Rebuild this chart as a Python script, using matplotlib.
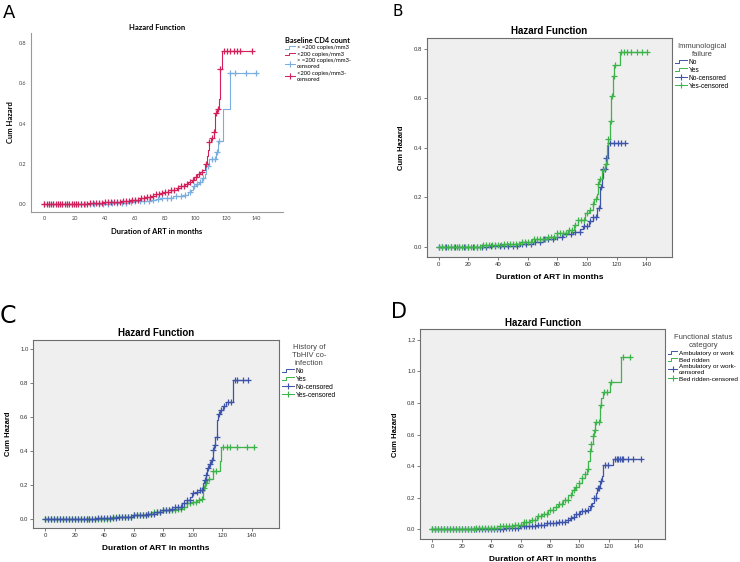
import numpy as np
import matplotlib
matplotlib.use("Agg")
import matplotlib.pyplot as plt
from matplotlib.lines import Line2D
from matplotlib.legend_handler import HandlerBase

# ---------------- data ----------------
# A: Baseline CD4 count
A_hi_t = [0, 45, 50, 55, 60, 65, 70, 74, 78, 85, 92, 95, 97, 98, 100, 102, 104, 106, 107, 109, 113.5, 114.6, 118, 122.4]
A_hi_h = [0, 0.003, 0.006, 0.01, 0.013, 0.016, 0.02, 0.025, 0.03, 0.04, 0.045, 0.06, 0.07, 0.09, 0.10, 0.11, 0.13, 0.15, 0.19, 0.225, 0.26, 0.315, 0.47, 0.65]
A_hi_cens = [0, 3, 6, 9, 12, 15, 18, 21, 24, 27, 30, 33, 36, 39, 42, 45, 48, 51, 54, 57, 60, 63, 66, 69, 72, 75, 78, 81, 84, 87, 90, 93, 96, 99, 101, 103, 105, 108, 111, 113, 114, 115.5, 122.8, 125.7, 133.4, 140]
A_lo_t = [0, 20, 30, 40, 45.6, 52, 57, 63, 67, 71, 74, 77, 80, 84, 87.5, 90, 93, 95, 97.4, 99, 100.7, 103, 104.5, 106, 107.4, 108, 108.5, 110, 111.8, 113, 114, 115.3, 116, 117.3]
A_lo_h = [0, 0.002, 0.005, 0.008, 0.01, 0.015, 0.02, 0.03, 0.035, 0.04, 0.05, 0.055, 0.06, 0.07, 0.08, 0.09, 0.10, 0.11, 0.12, 0.135, 0.15, 0.16, 0.17, 0.20, 0.24, 0.27, 0.31, 0.33, 0.36, 0.45, 0.47, 0.52, 0.67, 0.76]
A_lo_cens = [0, 1.5, 3, 4.5, 6, 7.5, 9, 10.5, 12, 13.5, 15, 16.5, 18, 19.5, 21, 22.5, 24, 26, 28, 30, 32, 34, 36, 38, 40, 42, 44, 46, 48, 50, 52, 54, 56, 58, 60, 62, 64, 66, 68, 70, 72, 74, 76, 78, 80, 82, 84, 86, 88, 90, 92, 94, 96, 98, 100, 102, 104, 107, 108.5, 110.5, 112, 113.5, 114.5, 116, 119, 121, 123, 125, 127, 129, 137]
A_labels = ["> =200 copies/mm3", "<200 copies/mm3", "> =200 copies/mm3-\ncensored", "<200 copies/mm3-\ncensored"]

# B: Immunological failure
B_no_t = [0, 35, 55, 63.8, 70.6, 78.4, 84, 90.8, 95.3, 97.5, 101, 103.8, 106.5, 108.8, 110.3, 111, 112.8, 114.4]
B_no_h = [0, 0.003, 0.01, 0.02, 0.03, 0.04, 0.05, 0.06, 0.07, 0.084, 0.105, 0.119, 0.155, 0.243, 0.277, 0.313, 0.36, 0.42]
B_no_cens = [0, 2, 5, 8, 11, 14, 17, 20, 23, 26, 29, 32, 35, 38, 41, 44, 47, 50, 53, 56, 59, 62, 65, 68, 71, 74, 77, 80, 83, 86, 89, 92, 95, 98, 100, 102, 104, 106, 108, 109.5, 111, 112, 113, 115.5, 118.4, 120.7, 122.7, 125.6]
B_yes_t = [0, 30, 43.6, 54.8, 62.7, 72.8, 79.5, 87.4, 91.5, 94, 98.7, 101, 103.8, 105, 106.5, 107.2, 108.3, 110.3, 112, 113.8, 114.3, 115.8, 116.3, 117.2, 118.4, 122.2]
B_yes_h = [0, 0.005, 0.011, 0.02, 0.03, 0.04, 0.054, 0.068, 0.088, 0.108, 0.135, 0.149, 0.173, 0.192, 0.215, 0.253, 0.274, 0.311, 0.334, 0.41, 0.435, 0.51, 0.61, 0.69, 0.735, 0.79]
B_yes_cens = [0, 2, 4, 6, 8, 10, 12, 14, 16, 18, 20, 22, 24, 26, 28, 30, 32, 34, 36, 38, 40, 42, 44, 46, 48, 50, 52, 54, 56, 58, 60, 62, 64, 66, 68, 70, 72, 74, 76, 78, 80, 82, 84, 86, 88, 90, 92, 94, 96, 98, 100, 102, 104, 106, 107.5, 109, 110.5, 113, 114.4, 116, 117, 118, 119, 122.7, 125, 127.2, 129.4, 133.5, 136.9, 140.5]
B_labels = ["No", "Yes", "No-censored", "Yes-censored"]

# C: History of TbHIV co-infection
C_no_t = [0, 35, 48.4, 59.7, 70, 75.6, 80, 84.6, 88, 92.5, 96, 98.2, 99.8, 102.7, 105, 107, 107.9, 108.8, 110, 111.3, 112.4, 113.6, 114.5, 115.4, 116.7, 117.4, 118.5, 120.8, 122.6, 127.6]
C_no_h = [0, 0.005, 0.01, 0.02, 0.03, 0.04, 0.05, 0.06, 0.071, 0.09, 0.11, 0.13, 0.15, 0.159, 0.169, 0.21, 0.228, 0.256, 0.297, 0.325, 0.346, 0.405, 0.433, 0.484, 0.583, 0.62, 0.64, 0.665, 0.691, 0.821]
C_no_cens = [0, 2, 4, 6, 8, 10, 12, 14, 16, 18, 20, 22, 24, 26, 28, 30, 32, 34, 36, 38, 40, 42, 44, 46, 48, 50, 52, 54, 56, 58, 60, 62, 64, 66, 68, 70, 72, 74, 76, 78, 80, 82, 84, 86, 88, 90, 92, 94, 96, 98, 100, 103, 105, 106, 108, 109, 110.5, 112, 113, 114, 115, 116.5, 117.5, 119, 121, 124, 126, 128.7, 130.3, 134.4, 137.8]
C_yes_t = [0, 46, 59.7, 68.8, 73, 80, 89, 92.5, 96, 99.3, 102.7, 105, 106.8, 108, 110, 113.6, 118.3, 119]
C_yes_h = [0, 0.01, 0.02, 0.03, 0.04, 0.05, 0.06, 0.07, 0.09, 0.10, 0.11, 0.118, 0.183, 0.21, 0.232, 0.28, 0.343, 0.421]
C_yes_cens = [0, 2, 4, 6, 8, 10, 12, 14, 16, 18, 20, 22, 24, 26, 28, 30, 32, 34, 36, 38, 40, 42, 44, 46, 48, 50, 52, 54, 56, 58, 60, 62, 64, 66, 68, 70, 72, 74, 76, 78, 80, 82, 84, 86, 88, 90, 92, 94, 96, 98, 100, 102, 104, 106, 107.5, 109, 111, 114, 115.8, 120.4, 123.1, 125.3, 130.3, 136.7, 141.6]
C_labels = ["No", "Yes", "No-censored", "Yes-censored"]

# D: Functional status category
D_amb_t = [0, 38, 48.3, 59.6, 70.9, 77.7, 84.5, 90.2, 93.6, 95.8, 98, 100.4, 104.9, 107.2, 108.3, 109.9, 111.2, 112.1, 114, 115.5, 116.2, 123]
D_amb_h = [0, 0.005, 0.01, 0.02, 0.03, 0.04, 0.048, 0.06, 0.07, 0.08, 0.10, 0.116, 0.125, 0.148, 0.169, 0.2, 0.232, 0.264, 0.306, 0.337, 0.407, 0.445]
D_amb_cens = [0, 2, 4, 6, 8, 10, 12, 14, 16, 18, 20, 22, 24, 26, 28, 30, 32, 34, 36, 38, 40, 42, 44, 46, 48, 50, 52, 54, 56, 58, 60, 62, 64, 66, 68, 70, 72, 74, 76, 78, 80, 82, 84, 86, 88, 90, 92, 94, 96, 98, 100, 102, 104, 106, 108, 110, 111, 112.5, 113.5, 114.5, 117.4, 119.6, 124.2, 125.3, 126.4, 127.5, 128.7, 129.8, 133.2, 136.6, 141.6]
D_bed_t = [0, 30, 46, 55, 61.8, 66.4, 70.9, 74.3, 78.8, 82.2, 85.6, 89, 92.4, 94.7, 97, 99.9, 102, 103.8, 104.9, 106, 107, 107.6, 109, 109.9, 110.6, 114, 115, 116.2, 120.8, 128]
D_bed_h = [0, 0.01, 0.02, 0.03, 0.048, 0.061, 0.084, 0.10, 0.122, 0.143, 0.162, 0.186, 0.215, 0.247, 0.268, 0.295, 0.327, 0.352, 0.38, 0.432, 0.495, 0.54, 0.59, 0.63, 0.68, 0.79, 0.833, 0.87, 0.935, 1.09]
D_bed_cens = [0, 2, 4, 6, 8, 10, 12, 14, 16, 18, 20, 22, 24, 26, 28, 30, 32, 34, 36, 38, 40, 42, 44, 46, 48, 50, 52, 54, 56, 58, 60, 62, 64, 66, 68, 70, 72, 74, 76, 78, 80, 82, 84, 86, 88, 90, 92, 94, 96, 98, 100, 102, 104, 105.5, 107, 108, 109.5, 110.3, 111.5, 113, 114.5, 116.9, 118.9, 121.4, 129.8, 134.3]
D_labels = ["Ambulatory or work", "Bed ridden", "Ambulatory or work-\ncensored", "Bed ridden-censored"]

X_TICKS = [0, 20, 40, 60, 80, 100, 120, 140]

# ---------------- style ----------------
SPSS_BLUE = "#3e54aa"
SPSS_GREEN = "#3cb44a"
A_BLUE = "#7aaee0"
A_RED = "#d2205a"
PANEL_BG = "#efefef"


class StepHandler(HandlerBase):
    """Little '_|-' glyph that SPSS uses for the step lines in the legend."""
    def create_artists(self, legend, orig_handle, xdescent, ydescent,
                       width, height, fontsize, trans):
        x0, y0 = -xdescent, -ydescent
        xs = [x0, x0 + 0.35 * width, x0 + 0.35 * width, x0 + width]
        ys = [y0 + 0.15 * height, y0 + 0.15 * height, y0 + 0.85 * height, y0 + 0.85 * height]
        ln = Line2D(xs, ys, color=orig_handle.get_color(), lw=0.7, transform=trans)
        return [ln]


def step_at(t, h, q):
    idx = np.searchsorted(np.asarray(t), np.asarray(q), side="right") - 1
    return np.asarray(h)[idx]


def draw_curve(ax, t, h, cens, color, lw=0.9, ms=4.5):
    t_end = max(max(cens), t[-1])
    ax.step(list(t) + [t_end], list(h) + [h[-1]], where="post", color=color, lw=lw)
    ax.plot(cens, step_at(t, h, cens), ls="none", marker="+", color=color, ms=ms, mew=0.9)


def legend_handles(c1, c2):
    step1 = Line2D([], [], color=c1)
    step2 = Line2D([], [], color=c2)
    cen1 = Line2D([], [], color=c1, lw=0.7, marker="+", ms=5, mew=0.8)
    cen2 = Line2D([], [], color=c2, lw=0.7, marker="+", ms=5, mew=0.8)
    return [step1, step2, cen1, cen2]


def add_legend(handles, labels, title, anchor, family, size, title_size,
               title_weight="normal", align="center", handlelength=1.7, spacing=0.12):
    leg = fig.legend(handles, labels, loc="upper left", bbox_to_anchor=anchor,
                     frameon=False, title=title, alignment=align,
                     prop={"family": family, "size": size},
                     title_fontproperties={"family": family, "size": title_size,
                                           "weight": title_weight},
                     handlelength=handlelength, handletextpad=0.3, labelspacing=spacing,
                     borderpad=0, handler_map={h: StepHandler() for h in handles[:2]})
    leg.get_title().set_multialignment("center")
    return leg


fig = plt.figure(figsize=(7.4, 5.62), dpi=100)
fig.patch.set_facecolor("white")

# ---------------- panel A (light, open style) ----------------
axA = fig.add_axes([31 / 740, 1 - 212 / 562, 252 / 740, 179 / 562])
draw_curve(axA, A_hi_t, A_hi_h, A_hi_cens, A_BLUE, lw=0.8, ms=4)
draw_curve(axA, A_lo_t, A_lo_h, A_lo_cens, A_RED, lw=0.8, ms=4)
axA.set_xlim(-8.8, 157.7)
axA.set_ylim(-0.04, 0.85)
axA.set_xticks(X_TICKS)
axA.set_yticks([0.0, 0.2, 0.4, 0.6, 0.8])
axA.set_yticklabels(["0.0", "0.2", "0.4", "0.6", "0.8"])
axA.tick_params(length=0, labelsize=4, labelcolor="#444444", pad=3)
for s in ("top", "right"):
    axA.spines[s].set_visible(False)
for s in ("left", "bottom"):
    axA.spines[s].set_color("#999999")
    axA.spines[s].set_linewidth(0.8)
for lab in axA.get_xticklabels() + axA.get_yticklabels():
    lab.set_family("Lato")
axA.set_title("Hazard Function", fontsize=5.5, fontweight="bold", family="Lato", pad=2)
axA.set_xlabel("Duration of ART in months", fontsize=5.5, fontweight="bold", family="Lato", labelpad=5)
axA.set_ylabel("Cum Hazard", fontsize=5.5, fontweight="bold", family="Lato", labelpad=4)
legA = add_legend(legend_handles(A_BLUE, A_RED), A_labels, "Baseline CD4 count",
                  (282 / 740, 1 - 34 / 562), "Lato", 4.2, 5.3, title_weight="bold",
                  align="left", handlelength=1.8, spacing=0.25)


# ---------------- panels B, C, D (SPSS grey style) ----------------
def spss_panel(rect, xlim, ylim, yticks):
    ax = fig.add_axes(rect)
    ax.set_facecolor(PANEL_BG)
    ax.set_xlim(*xlim)
    ax.set_ylim(*ylim)
    ax.set_xticks(X_TICKS)
    ax.set_yticks(yticks)
    ax.set_yticklabels([f"{v:.1f}" for v in yticks])
    ax.tick_params(length=2, width=0.6, color="#666666", labelsize=4.3,
                   labelcolor="#333333", pad=1.5)
    for s in ax.spines.values():
        s.set_color("#6e6e6e")
        s.set_linewidth(0.8)
    for lab in ax.get_xticklabels() + ax.get_yticklabels():
        lab.set_family("Liberation Sans")
    ax.set_title("Hazard Function", fontsize=7, fontweight="bold", family="Liberation Sans", pad=2.5)
    ax.set_xlabel("Duration of ART in months", fontsize=6, fontweight="bold",
                  family="Liberation Sans", labelpad=5)
    ax.set_ylabel("Cum Hazard", fontsize=5.5, fontweight="bold", family="Liberation Sans", labelpad=6)
    return ax


def spss_legend(labels, title, anchor, size=4.8, handlelength=1.7, spacing=0.12):
    leg = add_legend(legend_handles(SPSS_BLUE, SPSS_GREEN), labels, title, anchor,
                     "Liberation Sans", size, 5.5, handlelength=handlelength, spacing=spacing)
    leg.get_title().set_color("#444444")
    return leg


axB = spss_panel([426.7 / 740, 1 - 257 / 562, 245.3 / 740, 219.3 / 562],
                 (-8.1, 157.3), (-0.042, 0.846), [0.0, 0.2, 0.4, 0.6, 0.8])
draw_curve(axB, B_no_t, B_no_h, B_no_cens, SPSS_BLUE)
draw_curve(axB, B_yes_t, B_yes_h, B_yes_cens, SPSS_GREEN)
spss_legend(B_labels, "Immunological\nfailure", (672 / 740, 1 - 40 / 562))

axC = spss_panel([33.3 / 740, 1 - 528 / 562, 245.4 / 740, 188.3 / 562],
                 (-8.1, 158.3), (-0.055, 1.057), [0.0, 0.2, 0.4, 0.6, 0.8, 1.0])
draw_curve(axC, C_yes_t, C_yes_h, C_yes_cens, SPSS_GREEN)
draw_curve(axC, C_no_t, C_no_h, C_no_cens, SPSS_BLUE)
spss_legend(C_labels, "History of\nTbHIV co-\ninfection", (279 / 740, 1 - 341 / 562))

axD = spss_panel([420.3 / 740, 1 - 539.3 / 562, 245 / 740, 210 / 562],
                 (-8.2, 158.4), (-0.063, 1.266), [0.0, 0.2, 0.4, 0.6, 0.8, 1.0, 1.2])
draw_curve(axD, D_amb_t, D_amb_h, D_amb_cens, SPSS_BLUE)
draw_curve(axD, D_bed_t, D_bed_h, D_bed_cens, SPSS_GREEN)
spss_legend(D_labels, "Functional status\ncategory", (665 / 740, 1 - 331 / 562),
            size=4.6, handlelength=1.4, spacing=0.2)

# panel letters
fig.text(3 / 740, 1 - 18 / 562, "A", fontsize=13, family="DejaVu Sans")
fig.text(392 / 740, 1 - 16 / 562, "B", fontsize=11, family="DejaVu Sans")
fig.text(0 / 740, 1 - 323 / 562, "C", fontsize=17, family="DejaVu Sans")
fig.text(391 / 740, 1 - 318 / 562, "D", fontsize=15, family="DejaVu Sans")

plt.savefig("out.png", dpi=100, facecolor="white")
